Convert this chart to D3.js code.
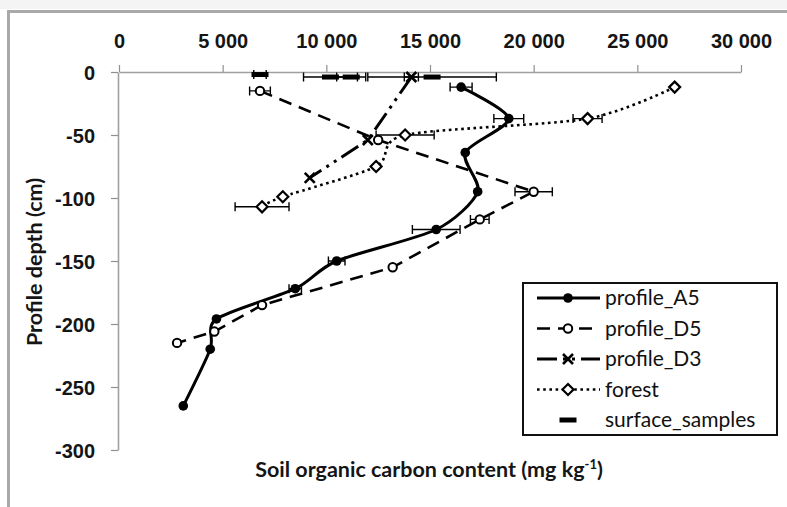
<!DOCTYPE html>
<html>
<head>
<meta charset="utf-8">
<script src="https://cdn.jsdelivr.net/npm/d3@7"></script>
<style>
  html, body { margin: 0; padding: 0; background: #fff; }
  svg { display: block; font-family: Lato, "Open Sans", sans-serif; }
</style>
</head>
<body>
<svg id="chart" width="787" height="507"></svg>
<script>
// Soil organic carbon (mg/kg) versus depth (cm) for each profile
const a5Depth = [-12, -37, -64, -95, -125, -150, -172, -196, -220, -265];
const a5Soc   = [16500, 18800, 16700, 17300, 15300, 10500, 8500, 4700, 4400, 3100];
const a5Err   = [530, 720, 0, 0, 1150, 400, 300, 0, 0, 0];

const d5Depth = [-15, -54, -95, -117, -155, -185, -206, -215];
const d5Soc   = [6800, 12500, 20000, 17400, 13200, 6900, 4600, 2800];
const d5Err   = [500, 0, 900, 450, 0, 0, 0, 0];

const d3Depth = [-4, -54, -84];
const d3Soc   = [14100, 12000, 9200];
const d3Err   = [340, 0, 0];

const forestDepth = [-12, -37, -50, -75, -99, -107];
const forestSoc   = [26800, 22600, 13800, 12400, 7900, 6900];
const forestErr   = [0, 700, 1400, 0, 0, 1300];

const surfaceDepth = [-2, -4, -4, -4];
const surfaceSoc   = [6800, 10200, 11200, 15100];
const surfaceErr   = [300, 1300, 700, 3100];

const xTicks = [0, 5000, 10000, 15000, 20000, 25000, 30000];
const yTicks = [0, -50, -100, -150, -200, -250, -300];
const seriesNames = ["profile_A5", "profile_D5", "profile_D3", "forest", "surface_samples"];

const svg = d3.select("#chart");
const x = d3.scaleLinear().domain([0, 30000]).range([119, 741]);
const y = d3.scaleLinear().domain([-300, 0]).range([450, 72]);

// thousands separated by a space, plain hyphen for negatives
const fmtX = v => String(v).replace(/\B(?=(\d{3})+(?!\d))/g, " ");
const fmtY = v => String(v);

// chart frame
svg.append("rect").attr("x", 0).attr("y", 0).attr("width", 787).attr("height", 9).attr("fill", "#f4f4f4");
svg.append("path").attr("d", "M8.5,507 V11.5 H787").attr("fill", "none")
  .attr("stroke", "#a9a9a9").attr("stroke-width", 3);

// axes
const xAxis = svg.append("g").attr("transform", `translate(0,${y(0)})`)
  .call(d3.axisTop(x).tickValues(xTicks).tickFormat(fmtX).tickSize(7).tickPadding(17).tickSizeOuter(0));
const yAxis = svg.append("g").attr("transform", `translate(${x(0) - 1},0)`)
  .call(d3.axisLeft(y).tickValues(yTicks).tickFormat(fmtY).tickSize(7).tickPadding(16).tickSizeOuter(0));
[xAxis, yAxis].forEach(g => {
  g.select(".domain").attr("stroke", "#a0a0a0").attr("stroke-width", 1.6);
  g.selectAll(".tick line").attr("stroke", "#909090").attr("stroke-width", 1.2);
  g.selectAll(".tick text").attr("fill", "#151515").style("font-size", "20px").style("font-weight", 700);
});
yAxis.selectAll(".tick text").attr("dy", "0.36em");

// axis titles
const xTitle = svg.append("text").attr("x", 429).attr("y", 477).attr("text-anchor", "middle")
  .attr("fill", "#151515").style("font-size", "21.5px").style("font-weight", 700);
xTitle.append("tspan").text("Soil organic carbon content (mg kg");
xTitle.append("tspan").attr("dy", -8).style("font-size", "13px").text("-1");
xTitle.append("tspan").attr("dy", 8).text(")");
svg.append("text").attr("transform", "translate(42,262) rotate(-90)").attr("text-anchor", "middle")
  .attr("fill", "#151515").style("font-size", "21.5px").style("font-weight", 700)
  .text("Profile depth (cm)");

const plot = svg.append("g");

function pts(soc, depth, err) {
  return soc.map((v, i) => ({ v, d: depth[i], e: err[i] }));
}
const series = [
  { name: seriesNames[0], data: pts(a5Soc, a5Depth, a5Err), width: 3, dash: null, curve: d3.curveCardinal.tension(0.2), marker: "dot" },
  { name: seriesNames[1], data: pts(d5Soc, d5Depth, d5Err), width: 2.6, dash: "13,8", curve: d3.curveLinear, marker: "circle" },
  { name: seriesNames[2], data: pts(d3Soc, d3Depth, d3Err), width: 3, dash: "20,6,3,6,3,6", curve: d3.curveLinear, marker: "x" },
  { name: seriesNames[3], data: pts(forestSoc, forestDepth, forestErr), width: 2.6, dash: "2.6,3.6", curve: d3.curveCardinal.tension(0.2), marker: "diamond" },
  { name: seriesNames[4], data: pts(surfaceSoc, surfaceDepth, surfaceErr), width: 0, dash: null, curve: null, marker: "bar" }
];

function drawMarker(g, type, cx, cy) {
  if (type === "dot") {
    g.append("circle").attr("cx", cx).attr("cy", cy).attr("r", 4.8).attr("fill", "#000");
  } else if (type === "circle") {
    g.append("circle").attr("cx", cx).attr("cy", cy).attr("r", 4.2)
      .attr("fill", "#fff").attr("stroke", "#000").attr("stroke-width", 2);
  } else if (type === "x") {
    const s = 5;
    g.append("path").attr("d", `M${cx - s},${cy - s}L${cx + s},${cy + s}M${cx - s},${cy + s}L${cx + s},${cy - s}`)
      .attr("stroke", "#000").attr("stroke-width", 2.6).attr("fill", "none");
  } else if (type === "diamond") {
    const s = 5.5;
    g.append("path").attr("d", `M${cx},${cy - s}L${cx + s},${cy}L${cx},${cy + s}L${cx - s},${cy}Z`)
      .attr("fill", "#fff").attr("stroke", "#000").attr("stroke-width", 2.2);
  } else if (type === "bar") {
    g.append("rect").attr("x", cx - 8.5).attr("y", cy - 2.5).attr("width", 17).attr("height", 5).attr("fill", "#000");
  }
}

// lines
series.forEach(s => {
  if (!s.curve) return;
  const line = d3.line().x(p => x(p.v)).y(p => y(p.d)).curve(s.curve);
  plot.append("path").datum(s.data).attr("d", line).attr("fill", "none")
    .attr("stroke", "#000").attr("stroke-width", s.width)
    .attr("stroke-dasharray", s.dash).attr("stroke-linecap", s.dash ? "butt" : "round");
});

// horizontal error bars
series.forEach(s => {
  s.data.filter(p => p.e > 0).forEach(p => {
    const cy = y(p.d), x0 = x(p.v - p.e), x1 = x(p.v + p.e);
    plot.append("path").attr("d", `M${x0},${cy}H${x1}M${x0},${cy - 4.5}V${cy + 4.5}M${x1},${cy - 4.5}V${cy + 4.5}`)
      .attr("stroke", "#000").attr("stroke-width", 1.4).attr("fill", "none");
  });
});

// markers
series.forEach(s => {
  s.data.forEach(p => drawMarker(plot, s.marker, x(p.v), y(p.d)));
});

// legend
const lg = svg.append("g");
lg.append("rect").attr("x", 523).attr("y", 283).attr("width", 254).attr("height", 152)
  .attr("fill", "#fff").attr("stroke", "#111").attr("stroke-width", 2);
series.forEach((s, i) => {
  const cy = 298 + i * 30.5;
  if (s.curve) {
    lg.append("line").attr("x1", 537).attr("x2", 600).attr("y1", cy).attr("y2", cy)
      .attr("stroke", "#000").attr("stroke-width", s.width).attr("stroke-dasharray", s.dash);
  }
  drawMarker(lg, s.marker, 568, cy);
  lg.append("text").attr("x", 605).attr("y", cy).attr("dy", "0.35em")
    .attr("fill", "#111").style("font-size", "21px").text(s.name);
});
</script>
</body>
</html>
